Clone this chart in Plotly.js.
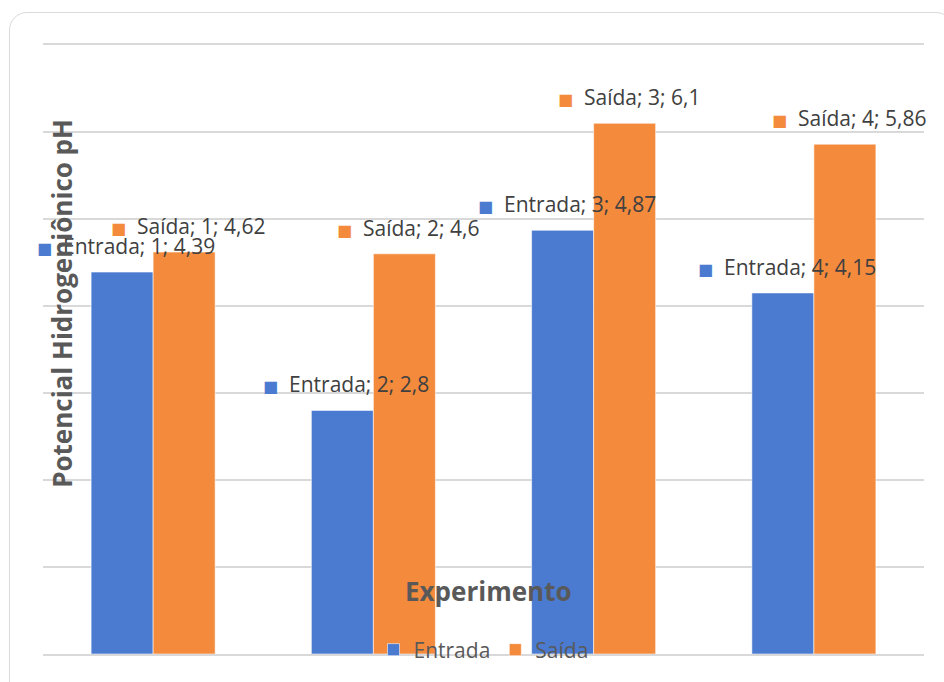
<!DOCTYPE html>
<html>
<head>
<meta charset="utf-8">
<script src="https://cdn.plot.ly/plotly-3.0.1.min.js"></script>
<style>
  html, body { margin: 0; padding: 0; background: #ffffff; }
  #frame {
    position: absolute; left: 9px; top: 12px; width: 945px; height: 690px;
    border: 1.5px solid #d9d9d9; border-radius: 18px; box-sizing: border-box;
  }
  #chart { position: absolute; left: 0; top: 0; width: 944px; height: 682px; }
</style>
</head>
<body>
<div id="frame"></div>
<div id="chart"></div>
<script>
// pH measured at the inlet (Entrada) and outlet (Saída) of each experiment
const categories = ['1', '2', '3', '4'];
const entrada = [4.39, 2.8, 4.87, 4.15];
const saida = [4.62, 4.6, 6.1, 5.86];

const seriesNames = ['Entrada', 'Saída'];
const seriesColors = ['#4a7bd0', '#f48a3c'];
const seriesValues = [entrada, saida];

const traces = seriesValues.map((vals, s) => ({
  type: 'bar',
  name: seriesNames[s],
  x: categories,
  y: vals,
  marker: { color: seriesColors[s], line: { width: 1, color: 'rgba(255,255,255,0.55)' } },
  hoverinfo: 'skip'
}));

// Data labels in the "series; category; value" style, with a colour key.
// On a category axis the annotation x is the category index.
const fmt = v => String(v).replace('.', ',');
const barShift = [-31, 31];
const annotations = [];
seriesValues.forEach((vals, s) => {
  vals.forEach((v, i) => {
    annotations.push({
      x: i, y: v, xref: 'x', yref: 'y',
      xshift: barShift[s] + 4, yshift: 26,
      xanchor: 'center', yanchor: 'middle',
      showarrow: false,
      text: '<span style="color:' + seriesColors[s] + ';font-family:DejaVu Sans;font-size:16px">■</span>  ' +
            seriesNames[s] + '; ' + categories[i] + '; ' + fmt(v),
      font: { family: 'Open Sans', size: 21, color: '#404040' }
    });
  });
});

// Axis titles drawn over the plot area
annotations.push({
  xref: 'paper', yref: 'paper', x: 0.0216, y: 0.575,
  xanchor: 'center', yanchor: 'middle', textangle: -90, showarrow: false,
  text: '<b>Potencial Hidrogeniônico pH</b>',
  font: { family: 'Open Sans', size: 26, color: '#595959' }
});
annotations.push({
  xref: 'paper', yref: 'paper', x: 0.5057, y: 0.103,
  xanchor: 'center', yanchor: 'middle', showarrow: false,
  text: '<b>Experimento</b>',
  font: { family: 'Open Sans', size: 26, color: '#595959' }
});

const layout = {
  width: 944, height: 682,
  margin: { l: 43, r: 20, t: 45, b: 28 },
  paper_bgcolor: 'rgba(0,0,0,0)',
  plot_bgcolor: 'rgba(0,0,0,0)',
  barmode: 'group',
  bargap: 0.437,
  bargroupgap: 0,
  showlegend: true,
  legend: {
    orientation: 'h', x: 0.5, xanchor: 'center', y: 0.0066, yanchor: 'middle',
    bgcolor: 'rgba(0,0,0,0)',
    font: { family: 'Open Sans', size: 21, color: '#595959' },
    itemwidth: 30,
    itemclick: false, itemdoubleclick: false
  },
  xaxis: {
    type: 'category', range: [-0.5, 3.5], autorange: false,
    showticklabels: false, ticks: '',
    showgrid: false, zeroline: false,
    showline: true, mirror: true, linecolor: '#d9d9d9', linewidth: 2
  },
  yaxis: {
    range: [0, 7], autorange: false, dtick: 1, showticklabels: false, ticks: '',
    showgrid: true, gridcolor: '#d9d9d9', gridwidth: 2,
    zeroline: false, showline: false
  },
  annotations: annotations
};

Plotly.newPlot('chart', traces, layout, { displayModeBar: false, staticPlot: true });
</script>
</body>
</html>
